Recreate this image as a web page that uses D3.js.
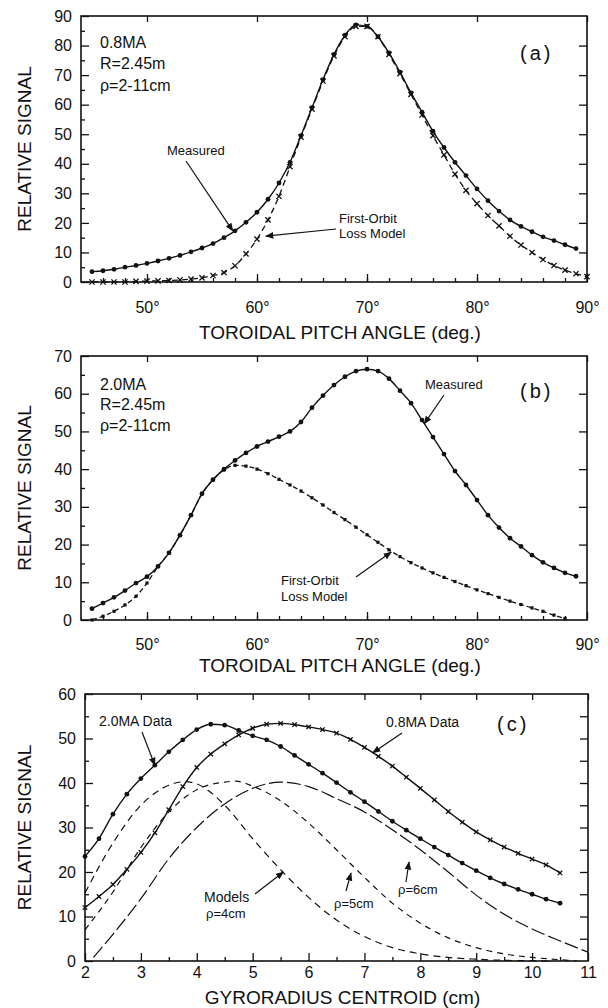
<!DOCTYPE html>
<html>
<head>
<meta charset="utf-8">
<script src="https://cdn.jsdelivr.net/npm/d3@7"></script>
<style>
body { margin: 0; background: #fff; }
text { font-family: "Liberation Sans", Arial, Helvetica, sans-serif; fill: #111; }
</style>
</head>
<body>
<div id="chart"></div>
<script>
// ---- panel (a): 0.8MA ----
var anglesA = [45,46,47,48,49,50,51,52,53,54,55,56,57,58,59,60,61,62,63,64,65,66,67,68,69,70,71,72,73,74,75,76,77,78,79,80,81,82,83,84,85,86,87,88,89];
var measuredA = [3.5,3.8,4.3,5.0,5.6,6.3,7.1,8.0,9.0,10.2,11.5,13.0,15.0,17.3,20.2,23.6,28.0,33.5,40.5,49.5,59,68.5,77,83.5,87,86.5,83,77.5,71,64,57.5,51,45.5,40.5,36,31.5,27.5,24,21,18.8,17,15.3,14,12.6,11.3];
var modelAnglesA = [45,46,47,48,49,50,51,52,53,54,55,56,57,58,59,60,61,62,63,64,65,66,67,68,69,70,71,72,73,74,75,76,77,78,79,80,81,82,83,84,85,86,87,88,89,90];
var modelA = [0,0,0,0,0.2,0.3,0.4,0.5,0.7,1.0,1.4,2.2,3.2,5.5,9.5,14.5,21,29,39,49,58.5,68,76.5,83,86.5,86.5,83,77,70.5,63.5,56.5,49.5,43,36.5,31,26.5,22.5,19,15.5,12.5,10,7.6,5.6,4,2.8,1.8];

// ---- panel (b): 2.0MA ----
var anglesB = [45,46,47,48,49,50,51,52,53,54,55,56,57,58,59,60,61,62,63,64,65,66,67,68,69,70,71,72,73,74,75,76,77,78,79,80,81,82,83,84,85,86,87,88,89];
var measuredB = [3.0,4.5,6.0,7.8,9.8,11.5,14.2,17.8,22.5,27.8,33.5,37.2,40,42.3,44.3,46,47.3,48.6,50,52.5,56.3,59.5,62.3,64.5,66,66.5,66,64,60.8,57.5,53,48.5,44,39.5,35.8,31.8,27.8,24.5,21.7,19.5,17.2,15.3,13.8,12.5,11.6];
var modelAnglesB = [45,46,47,48,49,50,51,52,53,54,55,56,57,58,59,60,61,62,63,64,65,66,67,68,69,70,71,72,73,74,75,76,77,78,79,80,81,82,83,84,85,86,87,88];
var modelB = [0,1.0,2.3,4.0,6.3,9.8,14.2,17.8,22.5,27.8,33.5,37.2,39.8,41,40.8,40,38.8,37.3,35.8,34.2,32.4,30.5,28.5,26.6,24.6,22.6,20.6,18.6,16.8,15.2,13.8,12.5,11.3,10.2,9.1,8.0,7.0,6.0,5.0,4.1,3.2,2.3,1.3,0.4];

// ---- panel (c): gyroradius ----
var rhoData = [2,2.25,2.5,2.75,3,3.25,3.5,3.75,4,4.25,4.5,4.75,5,5.25,5.5,5.75,6,6.25,6.5,6.75,7,7.25,7.5,7.75,8,8.25,8.5,8.75,9,9.25,9.5,9.75,10,10.25,10.5];
var data20MA = [23.5,27.5,33,37.5,41,44,47,49.7,52,53.2,53,51.8,50.6,49.7,48.2,46.2,44.2,42.2,40.1,37.9,35.8,33.6,31.4,29.4,27.5,25.6,23.8,22,20.3,18.7,17.3,16.1,15,13.9,13];
var data08MA = [12,14.5,17.2,20.6,24.4,28.8,34,39.2,43.5,46.5,48.8,50.8,52.3,53.2,53.4,53.1,52.6,52,51.2,49.8,48,46,43.8,41.3,38.8,36.2,33.6,31.2,29,27.2,25.6,24.2,22.9,21.6,19.8];
var rho4x = [2,2.5,3,3.5,3.8,4,4.5,5,5.5,6,6.5,7,7.5,8,8.5,9,9.5,10,10.3];
var rho4y = [15.3,26.5,35,39.5,40.3,39.8,35,27.5,20.5,14.3,9.2,5.5,3.0,1.6,0.8,0.4,0.15,0.05,0];
var rho5x = [2,2.5,3,3.5,4,4.5,4.7,5,5.5,6,6.5,7,7.5,8,8.5,9,9.5,10,10.5,10.8];
var rho5y = [7,15.5,25.5,33.5,38.5,40.2,40.4,39.3,36,31,25,18.8,13,8.5,5.2,3,1.6,0.8,0.3,0];
var rho6x = [2.15,2.5,3,3.5,4,4.5,5,5.5,6,6.5,7,7.5,8,8.5,9,9.5,10,10.5,11];
var rho6y = [0.8,6,14,23,30,35.3,38.8,40.2,39.2,36.5,33.5,29.5,25,20,14.8,10.5,7.2,4.5,2.0];

var width = 608, height = 1008;
var font = "'Liberation Sans', Arial, Helvetica, sans-serif";

var svg = d3.select("#chart").append("svg")
  .attr("width", width)
  .attr("height", height);

var defs = svg.append("defs");
defs.append("marker")
  .attr("id", "arrow")
  .attr("viewBox", "0 0 10 10")
  .attr("refX", 9).attr("refY", 5)
  .attr("markerWidth", 7).attr("markerHeight", 7)
  .attr("orient", "auto")
  .append("path")
  .attr("d", "M0,1 L10,5 L0,9 Z")
  .attr("fill", "#111");

// draws frame, ticks and labels of one panel, returns its scales
function panel(o) {
  var x = d3.scaleLinear().domain(o.xDomain).range([o.left, o.right]);
  var y = d3.scaleLinear().domain(o.yDomain).range([o.bottom, o.top]);
  var g = svg.append("g");

  function styleAxis(sel) {
    sel.select(".domain").remove();
    sel.selectAll("line").attr("stroke", "#111").attr("stroke-width", 1.3);
    sel.selectAll("text").attr("font-family", font).attr("font-size", 16).attr("fill", "#111");
    sel.attr("font-family", font);
  }

  g.append("g").attr("transform", "translate(0," + o.bottom + ")")
    .call(d3.axisBottom(x).tickValues(o.xTicks).tickSize(-8).tickPadding(o.xPad).tickFormat(o.xFormat))
    .call(styleAxis);
  g.append("g").attr("transform", "translate(0," + o.bottom + ")")
    .call(d3.axisBottom(x).tickValues(o.xMinor).tickSize(-4).tickFormat(""))
    .call(styleAxis);
  g.append("g").attr("transform", "translate(0," + o.top + ")")
    .call(d3.axisTop(x).tickValues(o.xTicks).tickSize(-6).tickFormat(""))
    .call(styleAxis);
  g.append("g").attr("transform", "translate(" + o.left + ",0)")
    .call(d3.axisLeft(y).tickValues(o.yTicks).tickSize(-8).tickPadding(9).tickFormat(d3.format("d")))
    .call(styleAxis);
  g.append("g").attr("transform", "translate(" + o.left + ",0)")
    .call(d3.axisLeft(y).tickValues(o.yMinor).tickSize(-4).tickFormat(""))
    .call(styleAxis);
  g.append("g").attr("transform", "translate(" + o.right + ",0)")
    .call(d3.axisRight(y).tickValues(o.yRight).tickSize(-8).tickFormat(""))
    .call(styleAxis);

  g.append("rect")
    .attr("x", o.left).attr("y", o.top)
    .attr("width", o.right - o.left).attr("height", o.bottom - o.top)
    .attr("fill", "none").attr("stroke", "#111").attr("stroke-width", 1.6);

  g.append("text")
    .attr("x", (o.left + o.right) / 2 + 6)
    .attr("y", o.titleY)
    .attr("text-anchor", "middle")
    .attr("font-size", 19)
    .text(o.xTitle);

  g.append("text")
    .attr("transform", "translate(31," + (o.top + o.bottom) / 2 + ") rotate(-90)")
    .attr("text-anchor", "middle")
    .attr("font-size", 19)
    .text("RELATIVE SIGNAL");

  return {x: x, y: y, g: g};
}

function drawLine(p, xs, ys, dash, w) {
  var line = d3.line()
    .x(d => p.x(d[0]))
    .y(d => p.y(d[1]))
    .curve(d3.curveMonotoneX);
  p.g.append("path")
    .datum(d3.zip(xs, ys))
    .attr("d", line)
    .attr("fill", "none")
    .attr("stroke", "#111")
    .attr("stroke-width", w || 1.4)
    .attr("stroke-dasharray", dash || null);
}

function drawDots(p, xs, ys, r) {
  p.g.append("g").selectAll("circle")
    .data(d3.zip(xs, ys))
    .enter().append("circle")
    .attr("cx", d => p.x(d[0]))
    .attr("cy", d => p.y(d[1]))
    .attr("r", r || 2.4)
    .attr("fill", "#111");
}

function drawCrosses(p, xs, ys, s) {
  s = s || 2.6;
  p.g.append("g").selectAll("path")
    .data(d3.zip(xs, ys))
    .enter().append("path")
    .attr("d", d => {
      var cx = p.x(d[0]), cy = p.y(d[1]);
      return "M" + (cx - s) + "," + (cy - s) + "L" + (cx + s) + "," + (cy + s) +
             "M" + (cx - s) + "," + (cy + s) + "L" + (cx + s) + "," + (cy - s);
    })
    .attr("stroke", "#111")
    .attr("stroke-width", 1.3);
}

function drawSquares(p, xs, ys, s) {
  s = s || 3.2;
  p.g.append("g").selectAll("rect")
    .data(d3.zip(xs, ys))
    .enter().append("rect")
    .attr("x", d => p.x(d[0]) - s / 2)
    .attr("y", d => p.y(d[1]) - s / 2)
    .attr("width", s).attr("height", s)
    .attr("fill", "#111");
}

function label(p, x, y, txt, size, extra) {
  var t = p.g.append("text")
    .attr("x", x).attr("y", y)
    .attr("font-size", size)
    .text(txt);
  if (extra) t.attr("letter-spacing", extra);
  return t;
}

function arrow(p, x1, y1, x2, y2) {
  p.g.append("line")
    .attr("x1", x1).attr("y1", y1)
    .attr("x2", x2).attr("y2", y2)
    .attr("stroke", "#111")
    .attr("stroke-width", 1.2)
    .attr("marker-end", "url(#arrow)");
}

var degFormat = d => d + "°";

// ----- (a) -----
var pa = panel({
  xDomain: [44, 90], yDomain: [0, 90],
  left: 81, right: 587, top: 16, bottom: 282,
  xTicks: [50, 60, 70, 80, 90], xMinor: d3.range(46, 90, 2), xPad: 20,
  yTicks: d3.range(0, 91, 10), yMinor: d3.range(5, 90, 10), yRight: d3.range(10, 90, 10),
  xFormat: degFormat, xTitle: "TOROIDAL PITCH ANGLE  (deg.)", titleY: 339
});
drawLine(pa, modelAnglesA, modelA, "6,4", 1.3);
drawCrosses(pa, modelAnglesA, modelA);
drawLine(pa, anglesA, measuredA);
drawDots(pa, anglesA, measuredA);

label(pa, 100, 48, "0.8MA", 16);
label(pa, 100, 69, "R=2.45m", 16);
label(pa, 100, 91, "ρ=2-11cm", 16);
label(pa, 520, 60, "(a)", 20, 3);
label(pa, 167, 155, "Measured", 13);
arrow(pa, 186, 161, pa.x(57.8), pa.y(17.3));
label(pa, 339, 223, "First-Orbit", 13);
label(pa, 339, 238, "Loss Model", 13);
arrow(pa, 336, 229, pa.x(60.8), pa.y(15.5));

// ----- (b) -----
var pb = panel({
  xDomain: [44, 90], yDomain: [0, 70],
  left: 81, right: 587, top: 356, bottom: 620,
  xTicks: [50, 60, 70, 80, 90], xMinor: d3.range(46, 90, 2), xPad: 19,
  yTicks: d3.range(0, 71, 10), yMinor: d3.range(5, 70, 10), yRight: d3.range(10, 70, 10),
  xFormat: degFormat, xTitle: "TOROIDAL PITCH ANGLE  (deg.)", titleY: 672
});
drawLine(pb, modelAnglesB, modelB, "5,3", 1.3);
drawSquares(pb, modelAnglesB, modelB);
drawLine(pb, anglesB, measuredB);
drawDots(pb, anglesB, measuredB);

label(pb, 100, 390, "2.0MA", 16);
label(pb, 100, 410, "R=2.45m", 16);
label(pb, 100, 431, "ρ=2-11cm", 16);
label(pb, 520, 398, "(b)", 20, 3);
label(pb, 425, 389, "Measured", 13);
arrow(pb, 444, 395, pb.x(75.2), pb.y(52));
label(pb, 281, 585, "First-Orbit", 13);
label(pb, 281, 601, "Loss Model", 13);
arrow(pb, 356, 577, pb.x(72.2), pb.y(18));

// ----- (c) -----
var pc = panel({
  xDomain: [2, 11], yDomain: [0, 60],
  left: 85, right: 588, top: 694, bottom: 961,
  xTicks: d3.range(2, 12, 1), xMinor: d3.range(2.5, 11, 1), xPad: 6,
  yTicks: d3.range(0, 61, 10), yMinor: d3.range(5, 60, 10), yRight: d3.range(5, 60, 5),
  xFormat: d3.format("d"), xTitle: "GYRORADIUS CENTROID (cm)", titleY: 1004
});
drawLine(pc, rho4x, rho4y, "7,5", 1.2);
drawLine(pc, rho5x, rho5y, "6,5", 1.2);
drawLine(pc, rho6x, rho6y, "14,4", 1.2);
drawLine(pc, rhoData, data08MA);
drawCrosses(pc, rhoData, data08MA, 2.2);
drawLine(pc, rhoData, data20MA);
drawDots(pc, rhoData, data20MA);

label(pc, 99, 726, "2.0MA Data", 14);
arrow(pc, 142, 732, pc.x(3.25), pc.y(44));
label(pc, 386, 727, "0.8MA Data", 14);
label(pc, 497, 731, "(c)", 20, 3);
arrow(pc, 402, 733, pc.x(7.15), pc.y(46.8));
label(pc, 204, 902, "Models", 14);
label(pc, 206, 918, "ρ=4cm", 13);
arrow(pc, 255, 894, pc.x(5.55), pc.y(20));
label(pc, 334, 908, "ρ=5cm", 13);
arrow(pc, 346, 891, 351, 873);
label(pc, 398, 894, "ρ=6cm", 13);
arrow(pc, 406, 882, 409, 862);
</script>
</body>
</html>
